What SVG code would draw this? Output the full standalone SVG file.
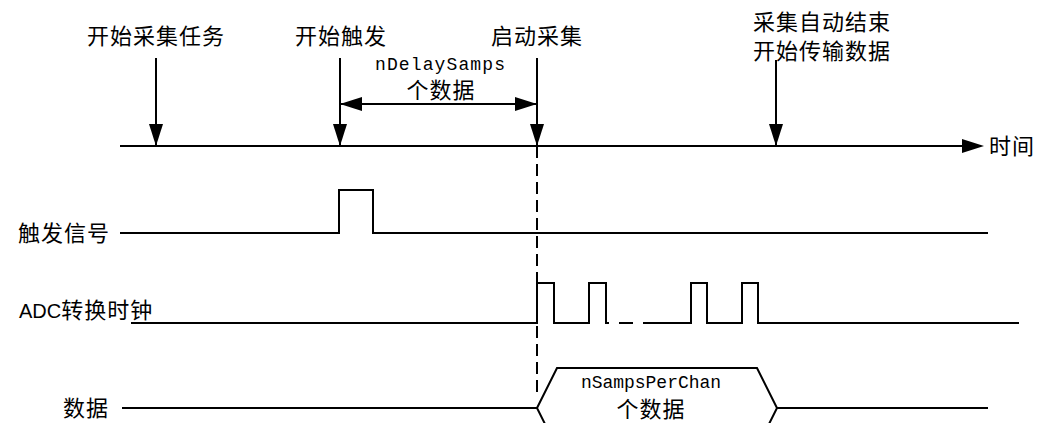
<svg xmlns="http://www.w3.org/2000/svg" width="1046" height="423" viewBox="0 0 1046 423">
<style>
.t{font-family:"Noto Sans CJK SC","Liberation Sans",sans-serif;font-size:22px;fill:#000;letter-spacing:1px}
.m{font-family:"Liberation Mono","Noto Sans CJK SC",monospace;font-size:18px;fill:#000}
.l{fill:none;stroke:#000;stroke-width:2}
</style>
<defs>
<marker id="ah" markerUnits="userSpaceOnUse" markerWidth="22" markerHeight="14" refX="21" refY="7" orient="auto-start-reverse">
<path d="M0,0 L22,7 L0,14 z" fill="#000"/>
</marker>
</defs>
<g id="labels">
<text class="t" x="156" y="44" text-anchor="middle">开始采集任务</text>
<text class="t" x="341" y="44" text-anchor="middle">开始触发</text>
<text class="t" x="537" y="44" text-anchor="middle">启动采集</text>
<text class="t" x="822" y="30" text-anchor="middle">采集自动结束</text>
<text class="t" x="822" y="59" text-anchor="middle">开始传输数据</text>
<text class="m" x="440" y="70" text-anchor="middle" textLength="130">nDelaySamps</text>
<text class="t" x="441" y="98" text-anchor="middle">个数据</text>
<text class="t" x="989" y="154">时间</text>
</g>
<g id="timeline">
<line class="l" x1="120" y1="146" x2="964" y2="146"/>
<path d="M962,139 L984,146 L962,153 z" fill="#000"/>
</g>
<g id="connectors">
<line class="l" x1="156" y1="58" x2="156" y2="145" marker-end="url(#ah)"/>
<line class="l" x1="340" y1="58" x2="340" y2="145" marker-end="url(#ah)"/>
<line class="l" x1="537" y1="58" x2="537" y2="145" marker-end="url(#ah)"/>
<line class="l" x1="776" y1="60" x2="776" y2="145" marker-end="url(#ah)"/>
<line class="l" x1="341" y1="104" x2="536" y2="104" marker-start="url(#ah)" marker-end="url(#ah)"/>
<line class="l" x1="537" y1="146" x2="537" y2="398" stroke-dasharray="12 6" stroke-width="1.5"/>
</g>
<g id="trigger">
<text class="t" x="18" y="241">触发信号</text>
<polyline class="l" points="120,233 339,233 339,190 373,190 373,233 988,233"/>
</g>
<g id="adc">
<text class="t" x="19" y="318"><tspan font-family="Liberation Sans, sans-serif" font-size="20" letter-spacing="0">ADC</tspan>转换时钟</text>
<polyline class="l" points="131,323 537,323 537,283 554,283 554,323 589,323 589,283 606,283 606,323 609,323"/>
<line class="l" x1="619" y1="323" x2="633" y2="323"/>
<polyline class="l" points="643,323 691,323 691,283 707,283 707,323 742,323 742,283 758,283 758,323 1019,323"/>
</g>
<g id="data">
<text class="t" x="63" y="416">数据</text>
<line class="l" x1="122" y1="408" x2="537" y2="408"/>
<polygon class="l" points="537,408 557,368 757,368 777,408 757,448 557,448"/>
<line class="l" x1="777" y1="408" x2="988" y2="408"/>
<text class="m" x="651" y="388" text-anchor="middle" textLength="140">nSampsPerChan</text>
<text class="t" x="651" y="417" text-anchor="middle">个数据</text>
</g>
</svg>
